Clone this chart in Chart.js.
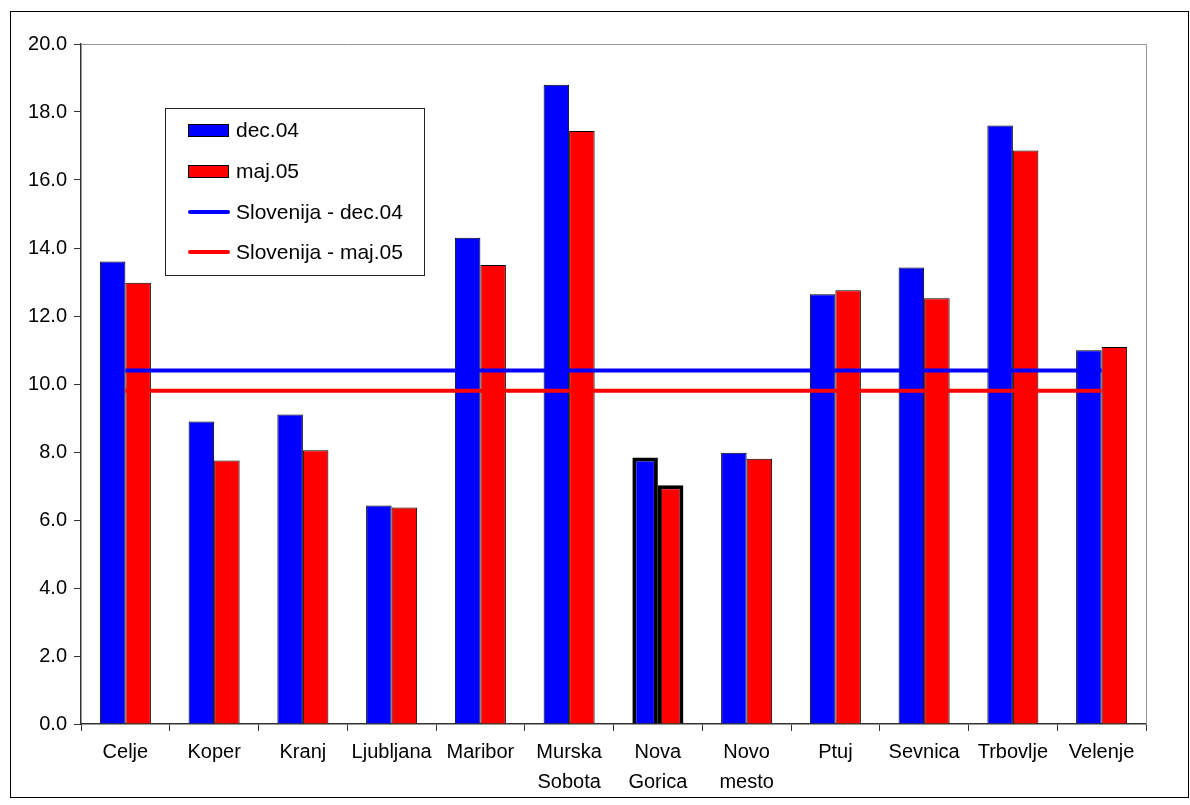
<!DOCTYPE html>
<html>
<head>
<meta charset="utf-8">
<script src="https://cdn.jsdelivr.net/npm/chart.js@4/dist/chart.umd.min.js"></script>
<style>
    html, body { margin: 0; padding: 0; background: #fff; }
    #wrap { position: relative; width: 1190px; height: 805px; }
</style>
</head>
<body>
<div id="wrap"><canvas id="barChart" width="1190" height="805"></canvas></div>
<script>
const categories = ['Celje', 'Koper', 'Kranj', 'Ljubljana', 'Maribor', ['Murska', 'Sobota'], ['Nova', 'Gorica'], ['Novo', 'mesto'], 'Ptuj', 'Sevnica', 'Trbovlje', 'Velenje'];
const dec04 = [13.6, 8.9, 9.1, 6.43, 14.3, 18.8, 7.84, 7.98, 12.64, 13.43, 17.6, 10.99];
const maj05 = [12.98, 7.75, 8.05, 6.37, 13.5, 17.44, 7.02, 7.8, 12.76, 12.52, 16.87, 11.09];
const slovenijaDec04 = [10.4, 10.4, 10.4, 10.4, 10.4, 10.4, 10.4, 10.4, 10.4, 10.4, 10.4, 10.4];
const slovenijaMaj05 = [9.8, 9.8, 9.8, 9.8, 9.8, 9.8, 9.8, 9.8, 9.8, 9.8, 9.8, 9.8];
const seriesLabels = ['dec.04', 'maj.05', 'Slovenija - dec.04', 'Slovenija - maj.05'];
const yMin = 0, yMax = 20, yStep = 2;

const FONT = '"Liberation Sans", Arial, sans-serif';

// thick outline on the selected group (Nova Gorica)
function borderWidths(data) {
    return data.map((v, i) => i === 6 ? 4 : 1);
}

// frame, grey plot border and the legend box inside the plot
const decorPlugin = {
    id: 'decor',
    afterDraw(chart) {
        const ctx = chart.ctx;
        const a = chart.chartArea;
        ctx.save();
        ctx.strokeStyle = '#000';
        ctx.lineWidth = 1;
        ctx.strokeRect(10.5, 11.5, 1178, 786);

        ctx.strokeStyle = '#999';
        ctx.beginPath();
        ctx.moveTo(a.left, a.top + 0.5);
        ctx.lineTo(a.right + 0.5, a.top + 0.5);
        ctx.lineTo(a.right + 0.5, a.bottom);
        ctx.stroke();

        // legend
        ctx.fillStyle = '#fff';
        ctx.fillRect(165, 108, 259, 167);
        ctx.strokeStyle = '#222';
        ctx.strokeRect(165.5, 108.5, 259, 167);
        const rows = [130, 171, 212, 252];
        ctx.font = '21px ' + FONT;
        ctx.textBaseline = 'middle';
        chart.data.datasets.forEach((ds, i) => {
            const y = rows[i];
            if (ds.type === 'line') {
                ctx.strokeStyle = ds.borderColor;
                ctx.lineWidth = 4;
                ctx.lineCap = 'round';
                ctx.beginPath();
                ctx.moveTo(190, y);
                ctx.lineTo(228, y);
                ctx.stroke();
            } else {
                ctx.fillStyle = ds.backgroundColor;
                ctx.fillRect(188, y - 6, 41, 12);
                ctx.strokeStyle = '#000';
                ctx.lineWidth = 1;
                ctx.strokeRect(188.5, y - 5.5, 40, 12);
            }
            ctx.fillStyle = '#000';
            ctx.fillText(ds.label, 236, y + 1);
        });
        ctx.restore();
    }
};

function displayChart() {
    const ctx = document.getElementById('barChart').getContext('2d');
    new Chart(ctx, {
        type: 'bar',
        data: {
            labels: categories,
            datasets: [
                {
                    label: seriesLabels[0],
                    data: dec04,
                    backgroundColor: '#0000ff',
                    borderColor: '#000',
                    borderWidth: borderWidths(dec04),
                    categoryPercentage: 0.575,
                    barPercentage: 1.0,
                    order: 1
                },
                {
                    label: seriesLabels[1],
                    data: maj05,
                    backgroundColor: '#ff0000',
                    borderColor: '#000',
                    borderWidth: borderWidths(maj05),
                    categoryPercentage: 0.575,
                    barPercentage: 1.0,
                    order: 1
                },
                {
                    type: 'line',
                    label: seriesLabels[2],
                    data: slovenijaDec04,
                    borderColor: '#0000ff',
                    backgroundColor: '#0000ff',
                    borderWidth: 4,
                    pointRadius: 0,
                    order: 0
                },
                {
                    type: 'line',
                    label: seriesLabels[3],
                    data: slovenijaMaj05,
                    borderColor: '#ff0000',
                    backgroundColor: '#ff0000',
                    borderWidth: 4,
                    pointRadius: 0,
                    order: 0
                }
            ]
        },
        options: {
            responsive: false,
            animation: false,
            layout: { padding: { left: 10, right: 44, top: 44, bottom: 10 } },
            plugins: {
                legend: { display: false },
                tooltip: { enabled: false }
            },
            scales: {
                x: {
                    offset: true,
                    grid: {
                        offset: true,
                        drawOnChartArea: false,
                        tickLength: 7,
                        color: '#333',
                        lineWidth: 1
                    },
                    border: { display: true, color: '#333', width: 1.5 },
                    ticks: {
                        color: '#000',
                        font: { family: FONT, size: 20, lineHeight: 1.5 },
                        padding: 6,
                        maxRotation: 0,
                        autoSkip: false
                    },
                    afterFit: s => { s.height = 71; }
                },
                y: {
                    min: yMin,
                    max: yMax,
                    grid: {
                        drawOnChartArea: false,
                        tickLength: 7,
                        color: '#333',
                        lineWidth: 1
                    },
                    border: { display: true, color: '#333', width: 1.5 },
                    ticks: {
                        stepSize: yStep,
                        color: '#000',
                        font: { family: FONT, size: 20 },
                        padding: 7,
                        callback: v => v.toFixed(1)
                    },
                    afterFit: s => { s.width = 71; }
                }
            }
        },
        plugins: [decorPlugin]
    });
}

document.addEventListener('DOMContentLoaded', displayChart);
</script>
</body>
</html>
